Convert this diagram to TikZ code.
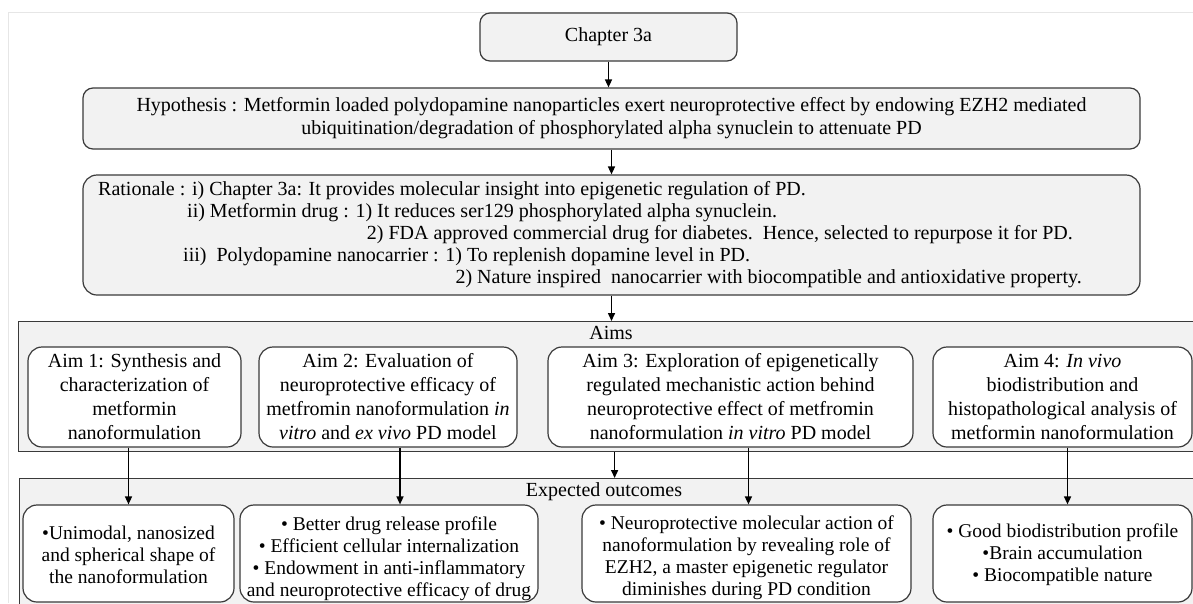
\documentclass[tikz,border=0pt]{standalone}
\usepackage{fontspec}
\setmainfont{Liberation Serif}
\usetikzlibrary{arrows.meta,calc}
\definecolor{boxgray}{HTML}{F2F2F2}
\definecolor{bordercol}{HTML}{3A3A3A}
\definecolor{faint}{HTML}{E6E6E6}
\begin{document}
\begin{tikzpicture}[x=1pt,y=-1pt,
  font=\fontsize{20}{24}\selectfont,
  graybox/.style={draw=bordercol, fill=boxgray, line width=1.2pt, rounded corners=10pt, align=center},
  whitebox/.style={draw=bordercol, fill=white, line width=1.2pt, rounded corners=14pt, align=center, inner sep=0pt},
  panel/.style={draw=bordercol, fill=boxgray, line width=1.2pt, anchor=north west},
  txt/.style={inner sep=0pt},
  outtxt/.style={inner sep=0pt, align=center, font=\fontsize{19.5}{22}\selectfont},
  arr/.style={-{Triangle[length=8pt,width=7pt]}, line width=1.5pt, black}
]
\clip (0,0) rectangle (1193,603);
\fill[white] (0,0) rectangle (1193,603);
\coordinate (fa) at (8,603);
\coordinate (fb) at (8,12);
\coordinate (fc) at (1193,12);
\draw[faint, line width=0.8pt] (fa) -- (fb) -- (fc);

\node[graybox, minimum width=257pt, minimum height=48pt] (chap) at (608.5,37) {Chapter 3a};
\node[graybox, minimum width=1057pt, minimum height=61pt, font=\fontsize{20}{23}\selectfont] (hyp) at (611.5,118.5)
  {Hypothesis : Metformin loaded polydopamine nanoparticles exert neuroprotective effect by endowing EZH2 mediated\\
   ubiquitination/degradation of phosphorylated alpha synuclein to attenuate PD};
\node[graybox, rounded corners=14pt, minimum width=1057pt, minimum height=120pt] (rat) at (611.5,235) {};
\node[txt, anchor=base west] (r1) at (98,195) {Rationale : i) Chapter 3a: It provides molecular insight into epigenetic regulation of PD.};
\node[txt, anchor=base west] (r2) at (187,217) {ii) Metformin drug : 1) It reduces ser129 phosphorylated alpha synuclein.};
\node[txt, anchor=base east] (r3) at (1073,239) {2) FDA approved commercial drug for diabetes.\ \ Hence, selected to repurpose it for PD.};
\node[txt, anchor=base west] (r4) at (183,261) {iii)\ \ Polydopamine nanocarrier : 1) To replenish dopamine level in PD.};
\node[txt, anchor=base east] (r5) at (1082,283) {2) Nature inspired\ \ nanocarrier with biocompatible and antioxidative property.};

\node[panel, minimum width=1192pt, minimum height=130pt] (aims) at (18,321) {};
\node[txt] (aimslbl) at (611,333) {Aims};
\node[whitebox, minimum width=213pt, minimum height=100pt] (aim1) at (134.5,397)
  {Aim 1: Synthesis and\\characterization of\\metformin\\nanoformulation};
\node[whitebox, minimum width=258pt, minimum height=100pt] (aim2) at (388,397)
  {Aim 2: Evaluation of\\neuroprotective efficacy of\\metfromin nanoformulation \textit{in}\\\textit{vitro} and \textit{ex vivo} PD model};
\node[whitebox, minimum width=365pt, minimum height=100pt] (aim3) at (730.5,397)
  {Aim 3: Exploration of epigenetically\\regulated mechanistic action behind\\neuroprotective effect of metfromin\\nanoformulation \textit{in vitro} PD model};
\node[whitebox, minimum width=259pt, minimum height=100pt] (aim4) at (1062.5,397)
  {Aim 4: \textit{In vivo}\\biodistribution and\\histopathological analysis of\\metformin nanoformulation};

\node[panel, minimum width=1191pt, minimum height=140pt] (exp) at (19,478) {};
\node[txt] (explbl) at (604,492) {Expected outcomes};

\node[whitebox, minimum width=211pt, minimum height=97pt] (o1) at (128.5,553.5) {};
\node[whitebox, minimum width=298pt, minimum height=97pt] (o2) at (389,553.5) {};
\node[whitebox, minimum width=329pt, minimum height=97pt] (o3) at (746.5,553.5) {};
\node[whitebox, minimum width=259pt, minimum height=97pt] (o4) at (1062.5,553.5) {};
\node[outtxt] (o1t) at ([yshift=-1pt]o1.center)
  {•Unimodal, nanosized\\and spherical shape of\\the nanoformulation};
\node[outtxt] (o2t) at ([yshift=-5pt]o2.center)
  {• Better drug release profile\\• Efficient cellular internalization\\• Endowment in anti-inflammatory\\and neuroprotective efficacy of drug};
\node[outtxt] (o3t) at ([yshift=-4pt]o3.center)
  {• Neuroprotective molecular action of\\nanoformulation by revealing role of\\EZH2, a master epigenetic regulator\\diminishes during PD condition};
\node[outtxt] (o4t) at ([yshift=-1pt]o4.center)
  {• Good biodistribution profile\\•Brain accumulation\\• Biocompatible nature};

\draw[arr] (chap.south) -- (chap.south |- hyp.north);
\draw[arr] (hyp.south) -- (hyp.south |- rat.north);
\draw[arr] (rat.south) -- (rat.south |- aims.north);
\draw[arr] (o1.north |- aim1.south) -- (o1.north);
\draw[arr] ([xshift=11pt]o2.north |- aim2.south) -- ([xshift=11pt]o2.north);
\draw[arr] ([xshift=2pt]o3.north |- aim3.south) -- ([xshift=2pt]o3.north);
\draw[arr] ([xshift=5pt]o4.north |- aim4.south) -- ([xshift=5pt]o4.north);
\draw[arr] (aims.south) -- (aims.south |- exp.north);
\end{tikzpicture}
\end{document}
